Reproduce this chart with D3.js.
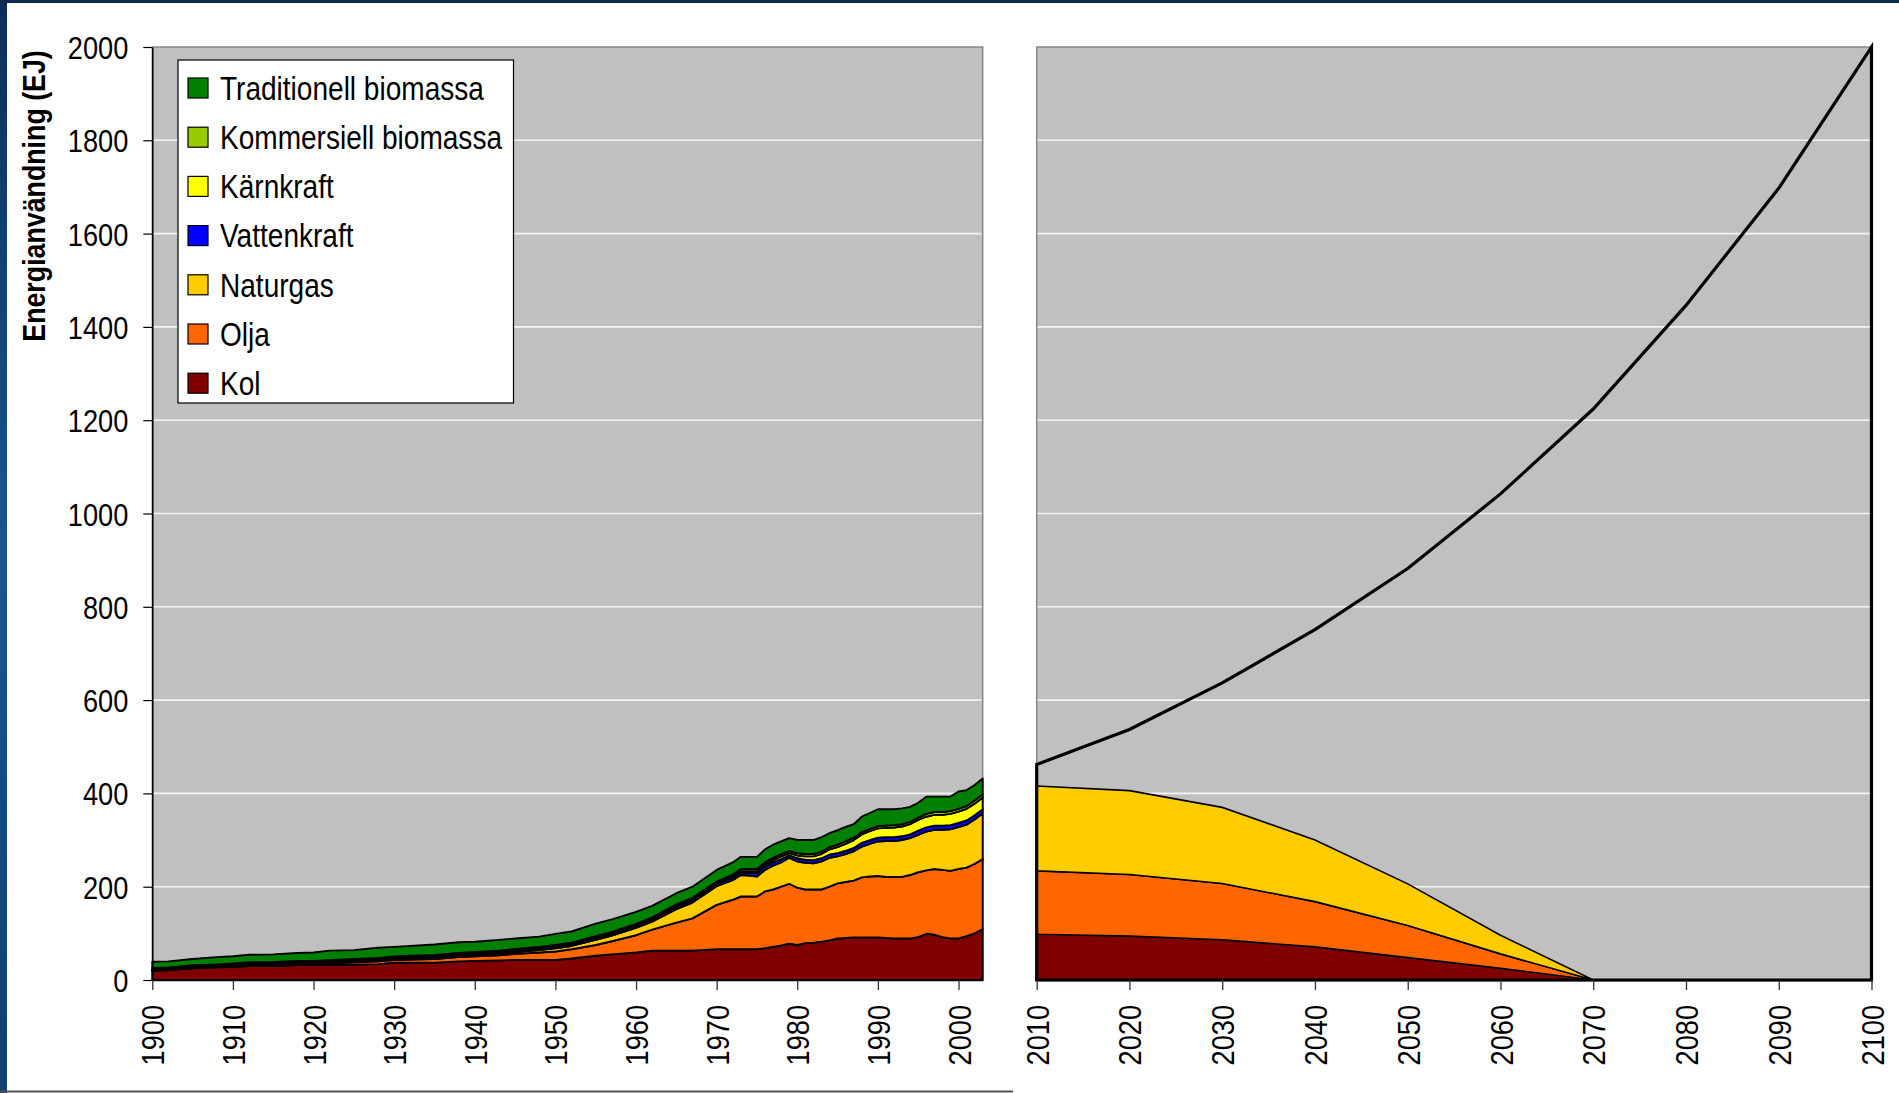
<!DOCTYPE html>
<html><head><meta charset="utf-8">
<script src="https://cdn.jsdelivr.net/npm/d3@7"></script>
<style>
html,body{margin:0;padding:0;background:#fff;overflow:hidden}
svg{display:block}
text{font-family:"Liberation Sans",Arial,Helvetica,sans-serif;fill:#000}
</style></head><body>
<svg id="chart" width="1899" height="1093"></svg>
<script>
// ---------- historical data 1900-2003 (EJ) ----------
const years = [1900,1902,1905,1908,1910,1912,1915,1918,1920,1922,1925,1928,1930,1932,1935,1938,1940,1943,1945,1948,1950,
  1952,1955,1957,1960,1962,1965,1967,1970,1972,
  1973,1974,1975,1976,1977,1978,1979,1980,1981,1982,1983,1984,1985,1986,1987,1988,1989,1990,1991,1992,1993,1994,1995,1996,1997,1998,1999,2000,2001,2002,2003];
const kol = [20,21,25,27,28,30,30,32,32,32,33,34,37,37,37,40,41,42,43,43,43,
  46,52,55,59,63,63,63,66,66,
  66,66,66,68,71,74,78,75,79,80,82,85,89,90,91,91,91,91,90,89,89,89,92,99,97,92,89,89,94,100,109];
const olja = [1,1,1.5,1.5,2,2,2.5,3,3,4,5,6,6,7,8,9,10,11,13,16,18,
  20,23,28,37,45,60,69,95,106,
  113,113,113,122,123,126,128,123,115,114,112,115,118,120,122,129,131,132,131,132,132,136,139,136,141,144,145,149,147,149,150];
const naturgas = [0.5,0.5,0.5,0.5,1,1,1,1,1,1.5,1.5,2,2,2,2.5,3,3,3.5,4,5,7,
  7,11,12,16,17,29,34,40,42,
  46,45,43,46,51,52,56,56,57,56,60,62,58,60,63,66,70,74,77,77,79,79,80,83,84,86,89,90,92,95,98];
const vattenkraft = [0.5,0.5,0.5,0.5,0.5,1,1,1,1,1,1.5,1.5,1.5,2,2,2,2,2.5,2.5,3,3,
  3,4,4,4,5,5,5,5,6,
  6,6,7,7,7,7,5,7,7,7,7,7,7,7,7,8,8,8,8,8,8,8,9,9,9,9,9,9,9,9,9];
const karnkraft = [0,0,0,0,0,0,0,0,0,0,0,0,0,0,0,0,0,0,0,0,0,
  0,0,0,0.5,0.5,1,1,1,2,
  3,3,4,4,5,6,5,6,7,8,9,11,13,15,17,18,19,20,20,21,21,22,23,23,23,23,24,24,25,25,25];
const kommersiellBiomassa = [4,4,4,4,4,4,4,4,4,4,4,4,4,4,4,4,4,4,4,4,4,
  4,4,4,4,4,4,4,4,4,
  4,5,5,5,5,5,5,5,5,5,5,5,5,5,5,5,5,5,5,5,5,5,5,6,6,6,6,6,6,7,7];
const traditionellBiomassa = [13,13,13.5,15.5,15.5,16,16.5,17,18,20.5,19,21.5,20.5,21,22.5,23,22,23,22.5,22,24,
  24,27,27,25.5,24.5,24,24,25,26,
  26,26,26,28,28,27,27,28,30,30,31,30,31,31,29,33,34,36,35,34,34,32,32,37,33,33,31,37,34,33,34];

// ---------- scenario 2010-2100 (EJ) ----------
const yearsScen = [2010,2020,2030,2040,2050,2060,2070,2080,2090,2100];
const kolScen = [98,94,86,71,48,25,0,0,0,0];
const oljaScen = [136,132,121,97,69,31,0,0,0,0];
const naturgasScen = [182,180,163,132,89,40,0,0,0,0];
const totalScen = [462,537,637,751,882,1042,1224,1446,1697,2000];

// ---------- labels ----------
const seriesNames = ["Kol","Olja","Naturgas","Vattenkraft","Kärnkraft","Kommersiell biomassa","Traditionell biomassa"];
const seriesColors = ["#800000","#FF6600","#FFCC00","#0000FF","#FFFF00","#99CC00","#008000"];
const yTicks = [0,200,400,600,800,1000,1200,1400,1600,1800,2000];
const xTicksHist = [1900,1910,1920,1930,1940,1950,1960,1970,1980,1990,2000];
const xTicksScen = [2010,2020,2030,2040,2050,2060,2070,2080,2090,2100];
const yTitle = "Energianvändning (EJ)";

// ---------- layout ----------
const NARROW = 0.85;
const svg = d3.select("#chart");
const defs = svg.append("defs");
const g1 = defs.append("linearGradient").attr("id","stripe").attr("x1",0).attr("y1",0).attr("x2",0).attr("y2",1);
g1.append("stop").attr("offset","0").attr("stop-color","#0b2f57");
g1.append("stop").attr("offset","0.5").attr("stop-color","#1a5592");
g1.append("stop").attr("offset","1").attr("stop-color","#0f3f73");

svg.append("rect").attr("width",1899).attr("height",1093).attr("fill","#fff");
svg.append("rect").attr("x",0).attr("y",0).attr("width",7).attr("height",1093).attr("fill","url(#stripe)");
svg.append("rect").attr("x",0).attr("y",0).attr("width",1899).attr("height",3).attr("fill","#0c2b4b");
svg.append("line").attr("x1",0).attr("x2",1013).attr("y1",1091.5).attr("y2",1091.5).attr("stroke","#555").attr("stroke-width",2);

const y = d3.scaleLinear().domain([0,2000]).range([980,47]);
const xL = d3.scaleLinear().domain([1900,2003]).range([152.3,982.7]);
const xR = d3.scaleLinear().domain([2010,2100]).range([1036.7,1871.5]);

function panel(x0,x1){
  svg.append("rect").attr("x",x0).attr("y",y(2000)).attr("width",x1-x0).attr("height",y(0)-y(2000))
    .attr("fill","#C0C0C0").attr("stroke","#888").attr("stroke-width",1.5);
  svg.append("g").selectAll("line").data(yTicks.filter(v=>v>0&&v<2000)).join("line")
    .attr("x1",x0+1).attr("x2",x1-1).attr("y1",d=>y(d)).attr("y2",d=>y(d))
    .attr("stroke","#f4f4f4").attr("stroke-width",1.6);
}
panel(xL.range()[0], xL.range()[1]);
panel(xR.range()[0], xR.range()[1]);

// ---------- historical stacked areas ----------
const rows = years.map((yr,i)=>({year:yr,
  "Kol":kol[i],"Olja":olja[i],"Naturgas":naturgas[i],"Vattenkraft":vattenkraft[i],
  "Kärnkraft":karnkraft[i],"Kommersiell biomassa":kommersiellBiomassa[i],"Traditionell biomassa":traditionellBiomassa[i]}));
const stacked = d3.stack().keys(seriesNames)(rows);
const areaL = d3.area().x(d=>xL(d.data.year)).y0(d=>y(d[0])).y1(d=>y(d[1]));
svg.append("g").selectAll("path").data(stacked).join("path")
  .attr("d",areaL).attr("fill",(d,i)=>seriesColors[i])
  .attr("stroke","#000").attr("stroke-width",1.9).attr("stroke-linejoin","round");

// ---------- scenario stacked areas ----------
const scenKeys = ["Kol","Olja","Naturgas"];
const rowsS = yearsScen.map((yr,i)=>({year:yr,"Kol":kolScen[i],"Olja":oljaScen[i],"Naturgas":naturgasScen[i]}));
const stackedS = d3.stack().keys(scenKeys)(rowsS);
const areaR = d3.area().x(d=>xR(d.data.year)).y0(d=>y(d[0])).y1(d=>y(d[1]));
svg.append("g").selectAll("path").data(stackedS).join("path")
  .attr("d",areaR).attr("fill",(d,i)=>seriesColors[i])
  .attr("stroke",(d,i)=>i===0?"#3a3a3a":"#000").attr("stroke-width",1.6);
const totalArea = d3.area().x((d,i)=>xR(yearsScen[i])).y0(y(0)).y1(d=>y(d));
svg.append("path").attr("d",totalArea(totalScen)+"Z").attr("fill","none")
  .attr("stroke","#000").attr("stroke-width",3.2).attr("stroke-linejoin","miter");

// ---------- axes ----------
const yAxis = svg.append("g").attr("transform",`translate(${xL(1900)},0)`)
  .call(d3.axisLeft(y).tickValues(yTicks).tickSize(9).tickSizeOuter(0).tickFormat(d3.format("d")));
yAxis.select(".domain").attr("stroke","#000").attr("stroke-width",1.5);
yAxis.selectAll(".tick line").attr("stroke","#000").attr("stroke-width",1.2);
yAxis.selectAll(".tick text").attr("font-size",32).attr("font-family",null)
  .attr("x",-24/NARROW).attr("dy","0.36em").attr("transform",`scale(${NARROW},1)`);

function xAxis(scale,ticks){
  const g = svg.append("g").attr("transform",`translate(0,${y(0)})`)
    .call(d3.axisBottom(scale).tickValues(ticks).tickSize(10).tickSizeOuter(0).tickFormat(d3.format("d")));
  g.select(".domain").attr("stroke","#000").attr("stroke-width",1.6);
  g.selectAll(".tick line").attr("stroke","#333").attr("stroke-width",1.3);
  g.selectAll(".tick text").attr("font-size",32).attr("font-family",null)
    .attr("y",0).attr("x",-25/NARROW).attr("dy","0.36em").attr("text-anchor","end")
    .attr("transform",`rotate(-90) scale(${NARROW},1)`);
}
xAxis(xL,xTicksHist);
xAxis(xR,xTicksScen);

// y title
svg.append("text").attr("transform",`translate(45,196) rotate(-90) scale(${NARROW},1)`)
  .attr("text-anchor","middle").attr("font-size",31.5).attr("font-weight","bold").text(yTitle);

// ---------- legend ----------
const legendOrder = seriesNames.map((n,i)=>({name:n,color:seriesColors[i]})).reverse();
const lg = svg.append("g");
lg.append("rect").attr("x",178).attr("y",60).attr("width",335.5).attr("height",343)
  .attr("fill","#fff").attr("stroke","#000").attr("stroke-width",1.2);
const item = lg.selectAll("g.it").data(legendOrder).join("g").attr("class","it")
  .attr("transform",(d,i)=>`translate(0,${88+i*49.2})`);
item.append("rect").attr("x",188).attr("y",-10).attr("width",20).attr("height",20)
  .attr("fill",d=>d.color).attr("stroke","#000").attr("stroke-width",1.2);
item.append("text").attr("transform",`translate(220,0) scale(${NARROW},1)`)
  .attr("dy","0.36em").attr("font-size",33).text(d=>d.name);
</script>
</body></html>
